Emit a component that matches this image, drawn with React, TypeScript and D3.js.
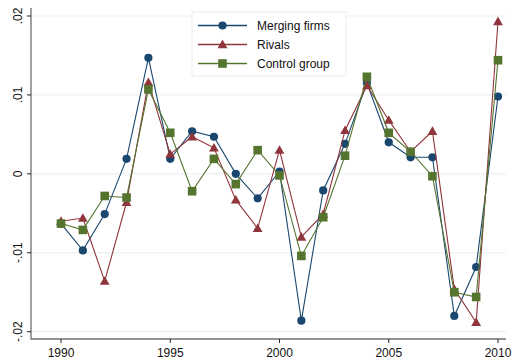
import React from "react";
import * as d3 from "d3";

// Annual values by year for each group
const years = [1990, 1991, 1992, 1993, 1994, 1995, 1996, 1997, 1998, 1999, 2000, 2001, 2002, 2003, 2004, 2005, 2006, 2007, 2008, 2009, 2010];

const mergingFirms = [-0.0063, -0.0097, -0.0051, 0.0019, 0.0147, 0.0019, 0.0054, 0.0047, 0.0, -0.0031, 0.0003, -0.0186, -0.0021, 0.0038, 0.0115, 0.004, 0.0021, 0.0021, -0.018, -0.0118, 0.0098];
const rivals = [-0.006, -0.0056, -0.0136, -0.0036, 0.0116, 0.0025, 0.0047, 0.0033, -0.0033, -0.0069, 0.003, -0.008, -0.0051, 0.0055, 0.0112, 0.0068, 0.0028, 0.0054, -0.0146, -0.0188, 0.0193];
const controlGroup = [-0.0063, -0.0071, -0.0028, -0.003, 0.0107, 0.0052, -0.0022, 0.0019, -0.0013, 0.003, -0.0002, -0.0104, -0.0055, 0.0023, 0.0123, 0.0052, 0.0028, -0.0003, -0.015, -0.0156, 0.0144];

const seriesNames = ["Merging firms", "Rivals", "Control group"];
const xTicks = [1990, 1995, 2000, 2005, 2010];
const yTicks = [-0.02, -0.01, 0, 0.01, 0.02];
const yTickLabels = ["-.02", "-.01", "0", ".01", ".02"];

const W = 515;
const H = 360;
const FONT = "'Liberation Sans', Arial, Helvetica, sans-serif";

const x = d3.scaleLinear().domain([1990, 2010]).range([61, 498]);
const y = d3.scaleLinear().domain([-0.02, 0.02]).range([331.7, 16]);

const plotLeft = 31;
const plotRight = 506;
const plotBottom = 339;

type Shape = "circle" | "triangle" | "square";

const series: { name: string; values: number[]; color: string; shape: Shape }[] = [
  { name: seriesNames[0], values: mergingFirms, color: "#1a476f", shape: "circle" },
  { name: seriesNames[1], values: rivals, color: "#90353b", shape: "triangle" },
  { name: seriesNames[2], values: controlGroup, color: "#55752f", shape: "square" },
];

function Marker({ shape, cx, cy, color }: { shape: Shape; cx: number; cy: number; color: string }) {
  if (shape === "circle") return <circle cx={cx} cy={cy} r={4.1} fill={color} />;
  if (shape === "square") return <rect x={cx - 4.3} y={cy - 4.3} width={8.6} height={8.6} fill={color} />;
  const s = 4.9;
  const pts = `${cx},${cy - s} ${cx + s},${cy + s * 0.75} ${cx - s},${cy + s * 0.75}`;
  return <polygon points={pts} fill={color} />;
}

export default function App() {
  const line = d3
    .line<number>()
    .x((_, i) => x(years[i]))
    .y((d) => y(d));

  const legendX = 192;
  const legendY = 12;
  const rowYs = [25.5, 44.5, 63.5];

  return (
    <svg
      width={W}
      height={H}
      style={{ position: "absolute", left: 0, top: 0, background: "#fff" }}
      fontFamily={FONT}
    >
      <rect x={0} y={0} width={W} height={H} fill="#fff" />
      {/* gridlines */}
      {yTicks.map((t) => (
        <line key={"g" + t} x1={plotLeft} x2={plotRight} y1={y(t)} y2={y(t)} stroke="#eaf2f3" strokeWidth={1.2} />
      ))}
      {/* axes */}
      <line x1={plotLeft} x2={plotLeft} y1={8} y2={plotBottom + 0.5} stroke="#6e6e6e" strokeWidth={1.3} />
      <line x1={plotLeft} x2={plotRight} y1={plotBottom} y2={plotBottom} stroke="#6e6e6e" strokeWidth={1.3} />
      {yTicks.map((t, i) => (
        <g key={"y" + t}>
          <line x1={plotLeft - 4} x2={plotLeft} y1={y(t)} y2={y(t)} stroke="#222" strokeWidth={1} />
          <text
            transform={`translate(21.5,${y(t)}) rotate(-90)`}
            textAnchor="middle"
            fontSize={12}
            fill="#111"
          >
            {yTickLabels[i]}
          </text>
        </g>
      ))}
      {xTicks.map((t) => (
        <g key={"x" + t}>
          <line x1={x(t)} x2={x(t)} y1={plotBottom} y2={plotBottom + 4} stroke="#222" strokeWidth={1} />
          <text x={x(t)} y={357} textAnchor="middle" fontSize={12} fill="#111">
            {t}
          </text>
        </g>
      ))}
      {/* series */}
      {series.map((s) => (
        <g key={s.name}>
          <path d={line(s.values) || ""} fill="none" stroke={s.color} strokeWidth={1.1} />
          {s.values.map((v, i) => (
            <Marker key={i} shape={s.shape} cx={x(years[i])} cy={y(v)} color={s.color} />
          ))}
        </g>
      ))}
      {/* legend */}
      <rect x={legendX} y={legendY} width={154} height={64} fill="#fff" stroke="#e6eef0" strokeWidth={1} />
      {series.map((s, i) => (
        <g key={"l" + s.name}>
          <line x1={198} x2={247} y1={rowYs[i]} y2={rowYs[i]} stroke={s.color} strokeWidth={1.3} />
          <Marker shape={s.shape} cx={222.5} cy={rowYs[i]} color={s.color} />
          <text x={257} y={rowYs[i] + 4.3} fontSize={12} fill="#111">
            {s.name}
          </text>
        </g>
      ))}
    </svg>
  );
}
